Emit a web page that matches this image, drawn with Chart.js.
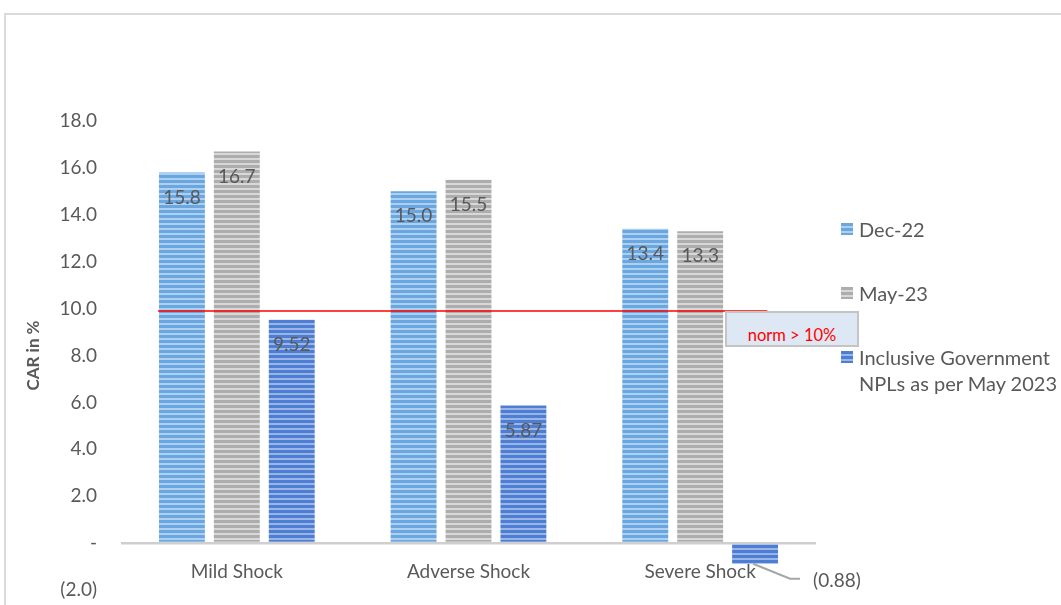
<!DOCTYPE html>
<html>
<head>
<meta charset="utf-8">
<script src="https://cdn.jsdelivr.net/npm/chart.js@4.4.1/dist/chart.umd.min.js"></script>
<style>
  html, body { margin: 0; padding: 0; background: #fff; }
  body { width: 1061px; height: 605px; position: relative; overflow: hidden; font-family: Lato, 'Open Sans', sans-serif; }
  #frame { position: absolute; left: 4px; top: 13px; width: 1200px; height: 800px; border-left: 2px solid #dadada; border-top: 2px solid #dadada; }
  #chart { position: absolute; left: 0; top: 0; }
  .legend { position: absolute; left: 841px; color: #595959; font-size: 20px; line-height: 26px; }
  .legend .sw { position: absolute; left: 0; width: 12px; height: 12px; }
  .legend .tx { position: absolute; left: 18px; white-space: nowrap; }
  #norm { position: absolute; left: 725px; top: 311px; width: 130px; height: 32px; background: #dee8f4; border: 2px solid #c4c4c4;
          color: #ff0000; font-size: 16.5px; text-align: center; line-height: 44px; }
</style>
</head>
<body>
<div id="frame"></div>
<canvas id="chart" width="1061" height="605"></canvas>
<div id="legend"></div>
<div id="norm">norm &gt; 10%</div>
<script>
// ── Data ─────────────────────────────────────────────────────
const categories = ['Mild Shock', 'Adverse Shock', 'Severe Shock'];
const dec22      = [15.8, 15.0, 13.4];
const may23      = [16.7, 15.5, 13.3];
const inclusive  = [9.52, 5.87, -0.88];
const seriesNames = ['Dec-22', 'May-23', ['Inclusive Government', 'NPLs as per May 2023']];
const seriesDecimals = [1, 1, 2];
const normLevel = 9.9;
const normSpan  = [-0.34, 2.29];   // in category units
const yTicks = { min: -2, max: 18, step: 2 };

// ── Striped fills ────────────────────────────────────────────
const STYLES = [
  { base: '#6aa6df', light: '#add0f0' },
  { base: '#adadad', light: '#d8d8d8' },
  { base: '#4e7ed3', light: '#9ab6e6' },
];
function stripes(s) {
  const c = document.createElement('canvas');
  c.width = 8; c.height = 5;
  const g = c.getContext('2d');
  g.fillStyle = s.base;  g.fillRect(0, 0, 8, 5);
  g.fillStyle = s.light; g.fillRect(0, 3, 8, 2);
  return g.createPattern(c, 'repeat');
}

const fmt = (v, d) => v < 0 ? '(' + Math.abs(v).toFixed(d) + ')' : v.toFixed(d);
const FONT = '19px Lato';

// ── Plugins ──────────────────────────────────────────────────
const extras = {
  id: 'extras',
  afterDatasetsDraw(chart) {
    const { ctx } = chart;
    const x = chart.scales.x, y = chart.scales.y;
    ctx.save();
    // norm line
    ctx.strokeStyle = '#ff0000';
    ctx.lineWidth = 1.5;
    const ny = y.getPixelForValue(normLevel);
    ctx.beginPath();
    ctx.moveTo(x.getPixelForValue(normSpan[0]), ny);
    ctx.lineTo(x.getPixelForValue(normSpan[1]), ny);
    ctx.stroke();

    ctx.font = FONT;
    ctx.fillStyle = '#595959';
    ctx.textBaseline = 'middle';
    // category labels just under the zero line
    ctx.textAlign = 'center';
    const y0 = y.getPixelForValue(0);
    categories.forEach((c, i) => ctx.fillText(c, x.getPixelForValue(i), y0 + 29));

    // value labels
    chart.data.datasets.forEach((ds, i) => {
      chart.getDatasetMeta(i).data.forEach((bar, j) => {
        const v = ds.data[j];
        const t = fmt(v, seriesDecimals[i]);
        if (v >= 0) {
          ctx.textAlign = 'center';
          ctx.fillText(t, bar.x, bar.y + 25);
        } else {
          ctx.strokeStyle = '#a6a6a6';
          ctx.lineWidth = 2;
          ctx.beginPath();
          ctx.moveTo(bar.x - 2, bar.y);
          ctx.lineTo(bar.x + 35, bar.y + 15);
          ctx.lineTo(bar.x + 45, bar.y + 15);
          ctx.stroke();
          ctx.textAlign = 'left';
          ctx.fillText(t, bar.x + 58, bar.y + 17);
        }
      });
    });
    ctx.restore();
  }
};

const ds = (label, data, i) => ({
  label, data,
  backgroundColor: stripes(STYLES[i]),
  borderWidth: 0,
  categoryPercentage: 0.711,
  barPercentage: 0.836,
});

new Chart(document.getElementById('chart'), {
  type: 'bar',
  data: {
    labels: categories,
    datasets: [
      ds('Dec-22', dec22, 0),
      ds('May-23', may23, 1),
      ds('Inclusive Government NPLs as per May 2023', inclusive, 2),
    ],
  },
  options: {
    responsive: false,
    animation: false,
    layout: { padding: { top: 121, right: 245, left: 0, bottom: 15 } },
    plugins: { legend: { display: false }, tooltip: { enabled: false } },
    scales: {
      x: { display: false },
      y: {
        min: yTicks.min, max: yTicks.max,
        border: { display: false },
        grid: {
          drawTicks: false,
          color: c => c.tick && c.tick.value === 0 ? '#cfcfcf' : 'transparent',
          lineWidth: c => c.tick && c.tick.value === 0 ? 2.5 : 0,
        },
        ticks: {
          stepSize: yTicks.step, padding: 24, color: '#595959',
          font: { family: 'Lato', size: 19 },
          callback: v => v === 0 ? '-' : fmt(v, 1),
        },
        title: {
          display: true, text: 'CAR in %', color: '#595959',
          font: { family: 'Lato', size: 17, weight: 'bold' },
          padding: { top: 23, bottom: 0 },
        },
        afterFit: s => { s.width = 121; s.paddingTop = 0; s.paddingBottom = 0; },
      },
    },
  },
  plugins: [extras],
});

// ── Legend ───────────────────────────────────────────────────
const LEGEND_Y = [229, 293, 357];
document.getElementById('legend').innerHTML = seriesNames.map((n, i) => {
  const lines = Array.isArray(n) ? n : [n];
  const s = STYLES[i];
  return `<div class="legend" style="top:${LEGEND_Y[i] - 13}px">
    <div class="sw" style="top:7px;background:repeating-linear-gradient(${s.base} 0 3px, ${s.light} 3px 5px)"></div>
    <div class="tx">${lines.join('<br>')}</div>
  </div>`;
}).join('');
</script>
</body>
</html>
